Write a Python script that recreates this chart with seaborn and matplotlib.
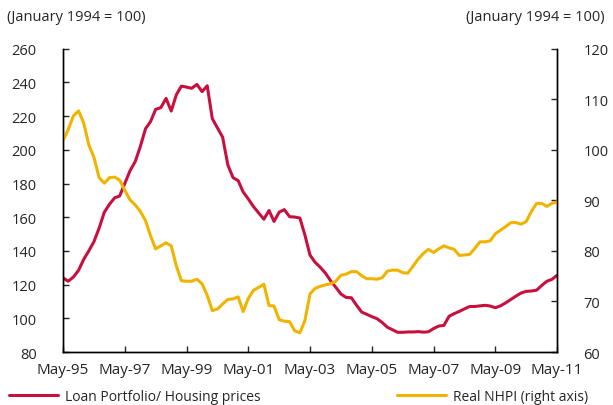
import numpy as np
import pandas as pd
import matplotlib
matplotlib.use("Agg")
import matplotlib.pyplot as plt
from matplotlib.lines import Line2D
import seaborn as sns

# bi-monthly observations, May-95 .. May-11
dates = pd.date_range("1995-05-01", periods=97, freq="2MS")

# Loan portfolio / housing prices (left axis, Jan 1994 = 100)
loan_portfolio = [
    124.0, 122.0, 124.5, 128.5, 135.0, 140.0, 145.5, 153.5, 163.0, 167.7,
    171.5, 172.6, 180.0, 187.5, 193.0, 202.0, 212.5, 216.7, 224.0, 225.0,
    230.5, 223.0, 232.7, 237.8, 237.2, 236.5, 238.8, 234.5, 238.0, 218.5,
    213.0, 207.5, 191.0, 183.5, 181.7, 175.0, 170.8, 166.3, 162.5, 158.8,
    164.0, 157.5, 163.0, 164.5, 160.3, 160.1, 159.5, 149.5, 137.5, 133.2,
    130.2, 126.7, 122.2, 118.4, 114.4, 112.4, 112.2, 107.8, 103.7, 102.4,
    101.0, 99.8, 97.5, 94.7, 93.2, 91.7, 91.7, 91.9, 91.9, 92.1,
    91.8, 92.0, 93.9, 95.4, 95.8, 101.2, 102.8, 104.1, 105.6, 107.0,
    107.0, 107.4, 107.7, 107.3, 106.3, 107.4, 109.2, 111.2, 113.2, 115.0,
    116.0, 116.2, 116.7, 119.5, 122.0, 123.1, 125.5,
]

# Real NHPI (right axis)
real_nhpi = [
    101.8, 104.0, 106.7, 107.7, 105.3, 101.0, 98.5, 94.5, 93.4, 94.5,
    94.6, 94.0, 92.0, 90.1, 89.1, 87.8, 86.0, 83.0, 80.4, 81.0,
    81.6, 81.0, 77.0, 74.1, 74.0, 74.0, 74.4, 73.5, 71.2, 68.2,
    68.5, 69.5, 70.4, 70.5, 70.9, 68.0, 70.6, 72.2, 72.8, 73.4,
    69.2, 69.1, 66.4, 66.1, 66.0, 64.2, 63.8, 66.2, 71.5, 72.6,
    73.0, 73.3, 73.5, 74.0, 75.2, 75.4, 75.9, 75.9, 75.1, 74.5,
    74.5, 74.4, 74.7, 76.0, 76.2, 76.2, 75.7, 75.6, 77.0, 78.4,
    79.5, 80.3, 79.7, 80.4, 81.0, 80.6, 80.3, 79.1, 79.2, 79.3,
    80.5, 81.8, 81.8, 82.0, 83.4, 84.1, 84.8, 85.6, 85.6, 85.3,
    85.8, 87.8, 89.4, 89.4, 88.8, 89.4, 89.7,
]

tick_years = [1995, 1997, 1999, 2001, 2003, 2005, 2007, 2009, 2011]

df = pd.DataFrame({"date": dates, "loan": loan_portfolio, "nhpi": real_nhpi})

red = "#C8103F"
gold = "#F0B400"

sns.set_style("ticks")
plt.rcParams["font.family"] = ["Open Sans", "DejaVu Sans"]

fig, ax = plt.subplots(figsize=(6.13, 4.06), dpi=100)
fig.subplots_adjust(left=0.1028, right=0.9087, bottom=0.1305, top=0.8776)

sns.lineplot(data=df, x="date", y="loan", ax=ax, color=red, linewidth=2.2, legend=False)
ax2 = ax.twinx()
sns.lineplot(data=df, x="date", y="nhpi", ax=ax2, color=gold, linewidth=2.2, legend=False)

ticks = [pd.Timestamp(f"{y}-05-01") for y in tick_years]
ax.set_xlim(pd.Timestamp("1995-05-01"), pd.Timestamp("2011-05-01"))
ax.set_xticks(ticks)
ax.set_xticklabels([t.strftime("%b-%y") for t in ticks])

ax.set_ylim(80, 260)
ax.set_yticks(np.arange(80, 261, 20))
ax2.set_ylim(60, 120)
ax2.set_yticks(np.arange(60, 121, 10))

for a in (ax, ax2):
    a.set_xlabel("")
    a.set_ylabel("")
    a.spines["top"].set_visible(False)
    for s in a.spines.values():
        s.set_linewidth(1.0)
        s.set_color("black")
    a.tick_params(axis="y", direction="in", length=4, width=1, pad=19, labelsize=10.5)
    a.tick_params(axis="x", direction="in", length=4, width=1, pad=7.5, labelsize=11)

fig.text(0.011, 0.956, "(January 1994 = 100)", fontsize=10.5, ha="left", va="center")
fig.text(0.987, 0.956, "(January 1994 = 100)", fontsize=10.5, ha="right", va="center")

fig.legend(handles=[Line2D([], [], color=red, lw=2.2)],
           labels=["Loan Portfolio/ Housing prices"],
           loc="center left", bbox_to_anchor=(0.015, 0.022),
           frameon=False, handlelength=3.5, handletextpad=0.5,
           borderpad=0, borderaxespad=0, fontsize=10)
fig.legend(handles=[Line2D([], [], color=gold, lw=2.2)],
           labels=["Real NHPI (right axis)"],
           loc="center left", bbox_to_anchor=(0.648, 0.022),
           frameon=False, handlelength=3.5, handletextpad=0.55,
           borderpad=0, borderaxespad=0, fontsize=10)

fig.savefig("out.png", dpi=100)
